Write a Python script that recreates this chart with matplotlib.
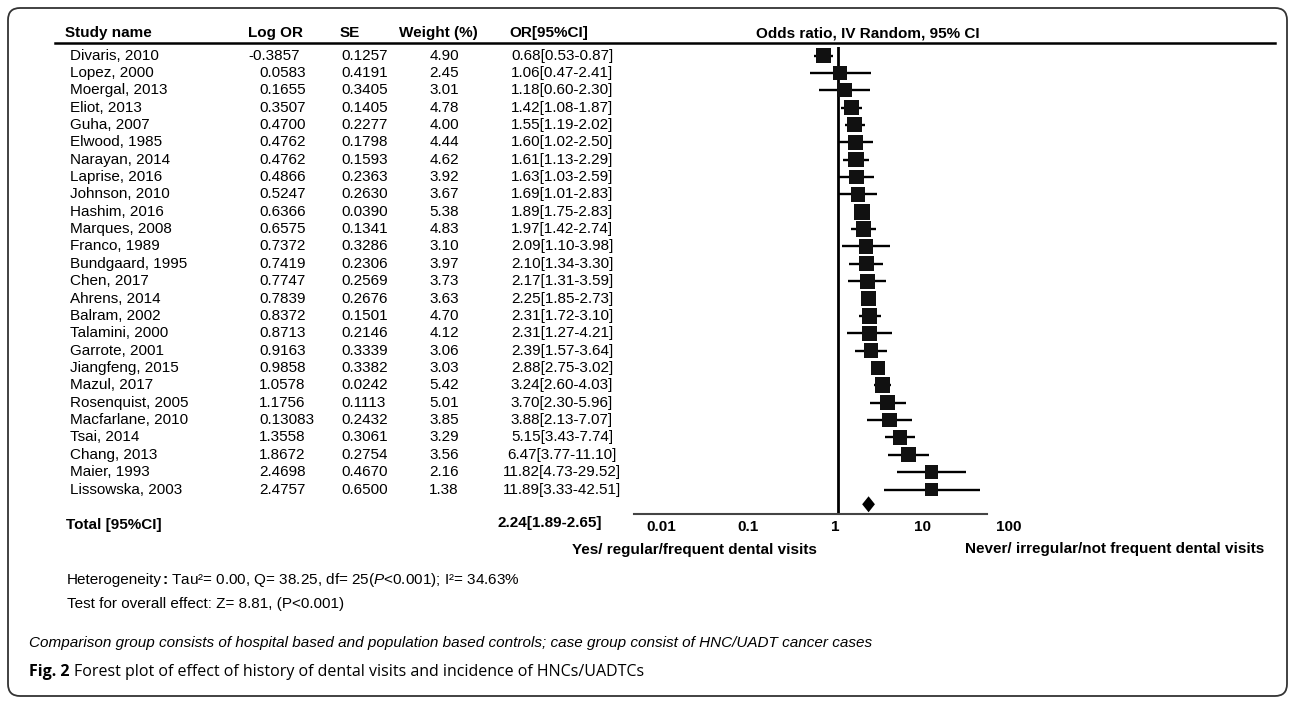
import numpy as np
import matplotlib
matplotlib.use('Agg')
import matplotlib.pyplot as plt
from matplotlib import transforms
from matplotlib.lines import Line2D
from matplotlib.patches import FancyBboxPatch

plt.rcParams['font.family'] = ['Liberation Sans', 'DejaVu Sans']
plt.rcParams['mathtext.fontset'] = 'custom'
plt.rcParams['mathtext.rm'] = 'Liberation Sans'
plt.rcParams['mathtext.it'] = 'Liberation Sans:italic'
plt.rcParams['mathtext.bf'] = 'Liberation Sans:bold'

# ---- data ----
studies = ["Divaris, 2010", "Lopez, 2000", "Moergal, 2013", "Eliot, 2013", "Guha, 2007",
           "Elwood, 1985", "Narayan, 2014", "Laprise, 2016", "Johnson, 2010", "Hashim, 2016",
           "Marques, 2008", "Franco, 1989", "Bundgaard, 1995", "Chen, 2017", "Ahrens, 2014",
           "Balram, 2002", "Talamini, 2000", "Garrote, 2001", "Jiangfeng, 2015", "Mazul, 2017",
           "Rosenquist, 2005", "Macfarlane, 2010", "Tsai, 2014", "Chang, 2013", "Maier, 1993",
           "Lissowska, 2003"]
log_or = ["-0.3857", "0.0583", "0.1655", "0.3507", "0.4700", "0.4762", "0.4762", "0.4866",
          "0.5247", "0.6366", "0.6575", "0.7372", "0.7419", "0.7747", "0.7839", "0.8372",
          "0.8713", "0.9163", "0.9858", "1.0578", "1.1756", "0.13083", "1.3558", "1.8672",
          "2.4698", "2.4757"]
se = ["0.1257", "0.4191", "0.3405", "0.1405", "0.2277", "0.1798", "0.1593", "0.2363",
      "0.2630", "0.0390", "0.1341", "0.3286", "0.2306", "0.2569", "0.2676", "0.1501",
      "0.2146", "0.3339", "0.3382", "0.0242", "0.1113", "0.2432", "0.3061", "0.2754",
      "0.4670", "0.6500"]
weight = [4.90, 2.45, 3.01, 4.78, 4.00, 4.44, 4.62, 3.92, 3.67, 5.38, 4.83, 3.10, 3.97,
          3.73, 3.63, 4.70, 4.12, 3.06, 3.03, 5.42, 5.01, 3.85, 3.29, 3.56, 2.16, 1.38]
or_ci_text = ["0.68[0.53-0.87]", "1.06[0.47-2.41]", "1.18[0.60-2.30]", "1.42[1.08-1.87]",
              "1.55[1.19-2.02]", "1.60[1.02-2.50]", "1.61[1.13-2.29]", "1.63[1.03-2.59]",
              "1.69[1.01-2.83]", "1.89[1.75-2.83]", "1.97[1.42-2.74]", "2.09[1.10-3.98]",
              "2.10[1.34-3.30]", "2.17[1.31-3.59]", "2.25[1.85-2.73]", "2.31[1.72-3.10]",
              "2.31[1.27-4.21]", "2.39[1.57-3.64]", "2.88[2.75-3.02]", "3.24[2.60-4.03]",
              "3.70[2.30-5.96]", "3.88[2.13-7.07]", "5.15[3.43-7.74]", "6.47[3.77-11.10]",
              "11.82[4.73-29.52]", "11.89[3.33-42.51]"]
# plotted point estimates and whiskers
odds = [0.68, 1.06, 1.18, 1.42, 1.55, 1.60, 1.61, 1.63, 1.69, 1.89, 1.97, 2.09, 2.10,
        2.17, 2.25, 2.31, 2.31, 2.39, 2.88, 3.24, 3.70, 3.88, 5.15, 6.47, 11.82, 11.89]
ci_low = [0.53, 0.47, 0.60, 1.08, 1.19, 1.02, 1.13, 1.03, 1.01, 1.75, 1.42, 1.10, 1.34,
          1.31, 1.85, 1.72, 1.27, 1.57, 2.75, 2.60, 2.30, 2.13, 3.43, 3.77, 4.73, 3.33]
ci_high = [0.87, 2.41, 2.30, 1.87, 2.02, 2.50, 2.29, 2.59, 2.83, 2.04, 2.74, 3.98, 3.30,
           3.59, 2.73, 3.10, 4.21, 3.64, 3.02, 4.03, 5.96, 7.07, 7.74, 11.10, 29.52, 42.51]
total_or, total_low, total_high = 2.24, 1.89, 2.65
total_text = "2.24[1.89-2.65]"
tick_values = [0.01, 0.1, 1, 10, 100]
tick_labels = ["0.01", "0.1", "1", "10", "100"]

W, H = 1295, 701
fig = plt.figure(figsize=(W / 100, H / 100), dpi=100)
fig.patch.set_facecolor('white')


def fx(px):
    return px / W


def fy(py):
    return 1 - py / H


# forest panel
ax = fig.add_axes([fx(634), fy(514), fx(987) - fx(634), (514 - 47) / H])
ax.set_xscale('log')
ax.set_xlim(0.0045, 51.5)
ax.set_ylim(26.41, -0.49)
rows = np.arange(len(studies))

ax.axvline(1, color='black', lw=2, zorder=1)
ax.hlines(rows, ci_low, ci_high, color='black', lw=1.7, zorder=2)
side_pt = (12.5 + 0.6 * np.array(weight)) / 1.389
ax.scatter(odds, rows, marker='s', s=side_pt ** 2, color='#111111', linewidths=0, zorder=3)
yd = len(studies) - 0.15
ax.fill([total_low, total_or, total_high, total_or], [yd, yd - 0.46, yd, yd + 0.46],
        color='black', lw=0, zorder=3)

for s in ['top', 'right', 'left']:
    ax.spines[s].set_visible(False)
ax.spines['bottom'].set_color('#444444')
ax.spines['bottom'].set_linewidth(1.5)
ax.tick_params(which='both', length=0, labelbottom=False, labelleft=False)
ax.set_yticks([])
ax.patch.set_alpha(0)

lab_tr = transforms.offset_copy(ax.get_xaxis_transform(), fig=fig, x=-3, y=0, units='dots')
for v, t in zip(tick_values, tick_labels):
    ax.text(v, -0.028, t, transform=lab_tr, ha='center', va='center',
            fontsize=11, fontweight='bold', clip_on=False)

# table columns
rt = transforms.blended_transform_factory(fig.transFigure, ax.transData)
fs = 11
for i in rows:
    fig.text(fx(70), i, studies[i], transform=rt, ha='left', va='center', fontsize=fs)
    xo = 248 if log_or[i].startswith('-') else 259
    fig.text(fx(xo), i, log_or[i], transform=rt, ha='left', va='center', fontsize=fs)
    fig.text(fx(341), i, se[i], transform=rt, ha='left', va='center', fontsize=fs)
    fig.text(fx(459), i, f"{weight[i]:.2f}", transform=rt, ha='right', va='center', fontsize=fs)
    fig.text(fx(562), i, or_ci_text[i], transform=rt, ha='center', va='center', fontsize=fs)

# headers
hy = fy(33)
fig.text(fx(65), hy, "Study name", ha='left', va='center', fontsize=fs, fontweight='bold')
fig.text(fx(276), hy, "Log OR", ha='center', va='center', fontsize=fs, fontweight='bold')
fig.text(fx(350), hy, "SE", ha='center', va='center', fontsize=fs, fontweight='bold')
fig.text(fx(438), hy, "Weight (%)", ha='center', va='center', fontsize=fs, fontweight='bold')
fig.text(fx(549), hy, "OR[95%CI]", ha='center', va='center', fontsize=fs, fontweight='bold')
fig.text(fx(868), hy, "Odds ratio, IV Random, 95% CI", ha='center', va='center',
         fontsize=fs, fontweight='bold')
fig.add_artist(Line2D([fx(55), fx(1275)], [fy(43), fy(43)], color='black', lw=1.8))

# total row and direction labels
fig.text(fx(66), fy(525), "Total [95%CI]", ha='left', va='center', fontsize=fs, fontweight='bold')
fig.text(fx(550), fy(523), total_text, ha='center', va='center', fontsize=fs, fontweight='bold')
fig.text(fx(572), fy(550), "Yes/ regular/frequent dental visits", ha='left', va='center',
         fontsize=fs, fontweight='bold')
fig.text(fx(965), fy(549), "Never/ irregular/not frequent dental visits", ha='left',
         va='center', fontsize=fs, fontweight='bold')

# statistics (pieces so the colon can be bold without extra spacing)
renderer = fig.canvas.get_renderer()
x = fx(67)
for piece, wt in [("Heterogeneity", 'normal'), (":", 'bold'),
                  (r" Tau²= 0.00, Q= 38.25, df= 25($\mathit{P}$<0.001); I²= 34.63%", 'normal')]:
    t = fig.text(x, fy(580), piece, ha='left', va='baseline' if False else 'center',
                 fontsize=fs, fontweight=wt)
    x = t.get_window_extent(renderer).x1 / W
fig.text(fx(67), fy(604), "Test for overall effect: Z= 8.81, (P<0.001)",
         ha='left', va='center', fontsize=fs)
fig.text(fx(29), fy(643),
         "Comparison group consists of hospital based and population based controls; "
         "case group consist of HNC/UADT cancer cases",
         ha='left', va='center', fontsize=fs, style='italic')

# caption
cap = fig.text(fx(29), fy(672), "Fig. 2", ha='left', va='center', fontsize=11.5,
               fontweight='bold', family='Open Sans')
bb = cap.get_window_extent(renderer)
fig.text((bb.x1 + 5) / W, fy(672),
         "Forest plot of effect of history of dental visits and incidence of HNCs/UADTCs",
         ha='left', va='center', fontsize=11.5, family='Open Sans')

# rounded frame
frame = FancyBboxPatch((0.08, 0.05), 12.79, 6.88,
                       boxstyle="round,pad=0,rounding_size=0.12",
                       transform=fig.dpi_scale_trans, fill=False,
                       edgecolor='#333333', lw=1.3)
fig.add_artist(frame)

fig.savefig('out.png', dpi=100)
